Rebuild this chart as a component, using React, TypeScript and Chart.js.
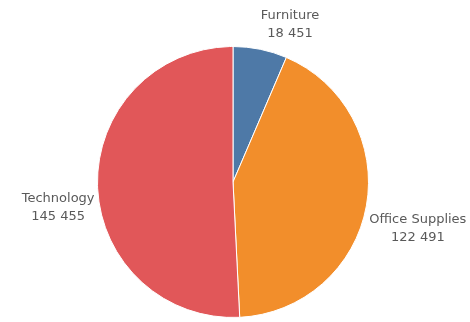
import React, { useEffect, useRef } from "react";
import { Chart, registerables } from "chart.js";

Chart.register(...registerables);

const categories = ["Furniture", "Office Supplies", "Technology"];
const sales = [18451, 122491, 145455];
const colors = ["#4e79a7", "#f28e2b", "#e15759"];

const fmt = (v: number) => {
  const s = String(Math.round(v));
  return s.replace(/\B(?=(\d{3})+(?!\d))/g, " ");
};

const labelPlugin = {
  id: "outerLabels",
  afterDatasetsDraw(chart: any) {
    const ctx = chart.ctx;
    const meta = chart.getDatasetMeta(0);
    ctx.save();
    ctx.font = "13px 'DejaVu Sans'";
    ctx.fillStyle = "#595959";
    ctx.textAlign = "center";
    ctx.textBaseline = "middle";
    const lineH = 18;
    meta.data.forEach((arc: any, i: number) => {
      const { x, y, startAngle, endAngle, outerRadius } = arc.getProps(
        ["x", "y", "startAngle", "endAngle", "outerRadius"],
        true
      );
      const mid = (startAngle + endAngle) / 2;
      const dx = Math.cos(mid);
      const dy = Math.sin(mid);
      const ax = x + (outerRadius + 3) * dx;
      const ay = y + (outerRadius + 3) * dy;
      const lines = [categories[i], fmt(sales[i])];
      const w = Math.max(...lines.map((l) => ctx.measureText(l).width));
      const h = lineH * lines.length;
      const cx = dx >= 0 ? ax + w / 2 : ax - w / 2;
      const top = dy >= 0 ? ay + 4 : ay - 4 - h;
      lines.forEach((l, k) => {
        ctx.fillText(l, cx, top + lineH * k + lineH / 2);
      });
    });
    ctx.restore();
  },
};

export default function App() {
  const ref = useRef<HTMLCanvasElement>(null);
  useEffect(() => {
    if (!ref.current) return;
    const chart = new Chart(ref.current, {
      type: "pie",
      data: {
        labels: categories,
        datasets: [
          {
            data: sales,
            backgroundColor: colors,
            borderColor: "#ffffff",
            borderWidth: 1,
          },
        ],
      },
      options: {
        responsive: false,
        animation: false,
        layout: { padding: { top: 46, bottom: 4, left: 97, right: 101 } },
        plugins: {
          legend: { display: false },
          tooltip: { enabled: false },
        },
      },
      plugins: [labelPlugin],
    });
    return () => chart.destroy();
  }, []);
  return (
    <div style={{ position: "fixed", left: 0, top: 0, width: 470, height: 322, background: "#fff" }}>
      <canvas ref={ref} width={470} height={322} />
    </div>
  );
}
